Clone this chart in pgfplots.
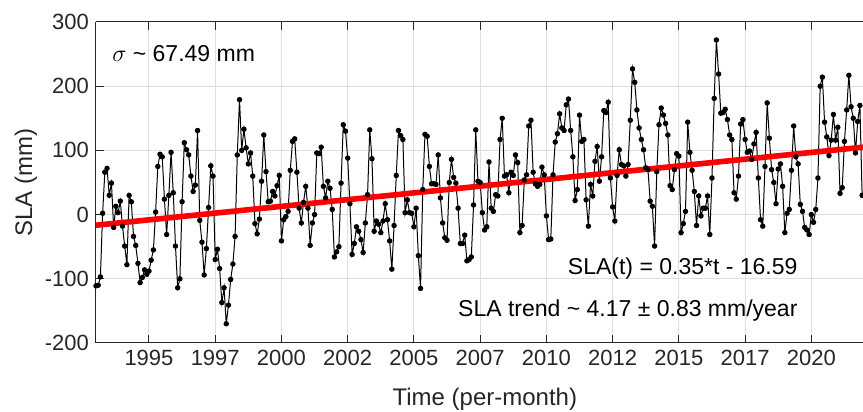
\documentclass[border=0pt]{standalone}
\usepackage{fontspec}
\setmainfont{Liberation Sans}
\usepackage{pgfplots}
\pgfplotsset{compat=1.18}
\usepackage{pgfplotstable}
\definecolor{axgray}{HTML}{262626}
\definecolor{gridgray}{HTML}{DFDFDF}

\pgfplotstableread{
m sla
0 -111
1 -110
2 -97
3 2
4 66
5 72
6 30
7 49
8 -20
9 13
10 3
11 21
12 -18
13 -49
14 -78
15 30
16 20
17 -34
18 -48
19 -76
20 -106
21 -98
22 -86
23 -93
24 -88
25 -71
26 -55
27 4
28 75
29 94
30 90
31 24
32 -31
33 30
34 97
35 34
36 -49
37 -114
38 -100
39 20
40 112
41 101
42 93
43 60
44 36
45 46
46 131
47 -9
48 -43
49 -94
50 -53
51 11
52 76
53 60
54 -70
55 -54
56 -84
57 -137
58 -114
59 -170
60 -141
61 -101
62 -77
63 -34
64 93
65 179
66 100
67 133
68 104
69 79
70 96
71 60
72 -14
73 -30
74 -7
75 52
76 124
77 67
78 20
79 21
80 36
81 29
82 45
83 61
84 -41
85 -8
86 -3
87 5
88 69
89 114
90 118
91 66
92 10
93 -13
94 19
95 44
96 10
97 -48
98 -13
99 0
100 96
101 95
102 105
103 44
104 26
105 52
106 41
107 8
108 -66
109 -58
110 -50
111 49
112 140
113 130
114 88
115 17
116 -62
117 -45
118 -19
119 -26
120 -39
121 -59
122 -13
123 31
124 132
125 87
126 -26
127 -10
128 -15
129 -28
130 -10
131 17
132 -8
133 -41
134 -85
135 -17
136 61
137 131
138 123
139 117
140 3
141 23
142 3
143 2
144 -19
145 10
146 -64
147 -115
148 39
149 125
150 122
151 75
152 48
153 48
154 47
155 93
156 26
157 -13
158 -36
159 -40
160 50
161 86
162 58
163 49
164 10
165 -45
166 -45
167 -32
168 -72
169 -70
170 -66
171 15
172 132
173 52
174 50
175 3
176 -24
177 -19
178 82
179 10
180 5
181 31
182 29
183 117
184 150
185 60
186 62
187 34
188 66
189 61
190 93
191 81
192 -28
193 -17
194 54
195 62
196 138
197 147
198 66
199 48
200 44
201 47
202 74
203 62
204 -2
205 -39
206 -38
207 62
208 113
209 126
210 157
211 135
212 131
213 171
214 180
215 131
216 90
217 22
218 39
219 155
220 114
221 117
222 23
223 -18
224 47
225 29
226 83
227 106
228 52
229 90
230 162
231 159
232 175
233 57
234 12
235 -10
236 61
237 101
238 78
239 76
240 60
241 78
242 147
243 227
244 206
245 163
246 135
247 117
248 101
249 73
250 70
251 21
252 13
253 -49
254 67
255 140
256 166
257 155
258 142
259 124
260 45
261 39
262 70
263 95
264 91
265 -28
266 -14
267 5
268 144
269 97
270 69
271 36
272 -17
273 29
274 -2
275 10
276 10
277 29
278 -31
279 57
280 181
281 272
282 219
283 158
284 159
285 164
286 148
287 124
288 117
289 34
290 24
291 60
292 141
293 148
294 117
295 97
296 99
297 86
298 110
299 128
300 57
301 -8
302 -18
303 75
304 174
305 119
306 70
307 50
308 17
309 71
310 79
311 44
312 -28
313 2
314 8
315 69
316 138
317 90
318 79
319 16
320 5
321 -20
322 -24
323 -31
324 0
325 -12
326 8
327 57
328 200
329 214
330 144
331 121
332 92
333 116
334 156
335 116
336 136
337 33
338 42
339 114
340 163
341 217
342 168
343 150
344 96
345 145
346 170
347 30
}\sladata

\begin{document}
\begin{tikzpicture}
\begin{axis}[
  at={(0,0)}, anchor=south west,
  scale only axis, width=383.5pt, height=160.5pt,
  xmin=0, xmax=347.4, ymin=-200, ymax=300,
  axis x line*=box, axis y line*=left,
  axis line style={axgray, line width=0.5pt},
  xtick={24,54,84,114,144,174,204,234,264,294,324},
  xticklabels={1995,1997,2000,2002,2005,2007,2010,2012,2015,2017,2020},
  ytick={-200,-100,0,100,200,300},
  yticklabels={-200,-100,0,100,200,300},
  tick align=inside, major tick length=3.8pt,
  tick style={axgray, line width=0.5pt},
  grid=major, major grid style={gridgray, line width=0.5pt},
  ticklabel style={font=\fontsize{11}{13}\selectfont, text=axgray},
  xlabel={Time (per-month)}, ylabel={SLA (mm)},
  label style={font=\fontsize{12}{14}\selectfont, text=axgray},
  xlabel style={at={(axis description cs:0.507,-0.1745)}, anchor=center},
  ylabel style={at={(axis description cs:-0.0913,0.5)}, anchor=center},
  clip=true,
]
\addplot[black, line width=0.5pt, mark=*, mark size=1.1pt, mark options={fill=black, solid}] table[x=m, y=sla] {\sladata};
\addplot[red, line width=2.8pt] coordinates {(0,-16.59) (348,105.21)};
\node[anchor=base west, inner sep=0pt, font=\fontsize{11.5}{13}\selectfont] at (axis cs:7.2,238.4) {$\sigma$ \textasciitilde{} 67.49 mm};
\node[anchor=base east, inner sep=0pt, font=\fontsize{11.5}{13}\selectfont] at (axis cs:317.9,-92.9) {SLA(t) = 0.35*t - 16.59};
\node[anchor=base east, inner sep=0pt, font=\fontsize{11.5}{13}\selectfont] at (axis cs:317.9,-158) {SLA trend \textasciitilde{} 4.17 ± 0.83 mm/year};
\end{axis}
\pgfresetboundingbox
\path (-48pt,-34.5pt) rectangle (383.5pt,171.5pt);
\end{tikzpicture}
\end{document}
